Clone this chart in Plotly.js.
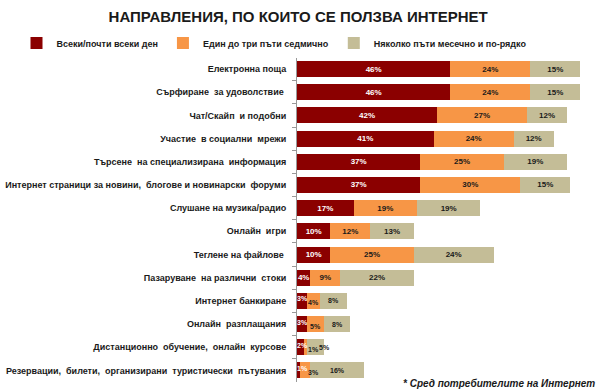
<!DOCTYPE html>
<html><head><meta charset="utf-8">
<script src="https://cdn.plot.ly/plotly-3.0.1.min.js"></script>
<style>body{margin:0;padding:0;background:#fff}#chart{width:600px;height:392px}</style>
</head><body><div id="chart"></div>
<script>
const categories = [
  "Електронна поща",
  "Сърфиране  за удоволствие ",
  "Чат/Скайп  и подобни",
  "Участие  в социални  мрежи",
  "Търсене  на специализирана  информация",
  "Интернет страници за новини,  блогове и новинарски  форуми",
  "Слушане на музика/радио",
  "Онлайн  игри",
  "Теглене на файлове ",
  "Пазаруване  на различни  стоки",
  "Интернет банкиране",
  "Онлайн  разплащания",
  "Дистанционно  обучение,  онлайн  курсове",
  "Резервации,  билети,  организирани  туристически  пътувания"
];
const seriesNames = ["Всеки/почти всеки ден", "Един до три пъти седмично", "Няколко пъти месечно и по-рядко"];
const daily   = [46, 46, 42, 41, 37, 37, 17, 10, 10, 4, 3, 3, 2, 1];
const weekly  = [24, 24, 27, 24, 25, 30, 19, 12, 25, 9, 4, 5, 1, 3];
const monthly = [15, 15, 12, 12, 19, 15, 19, 13, 24, 22, 8, 8, 5, 16];

const colors = ["#8B0000", "#F79646", "#C4BD97"];
const textColors = ["#ffffff", "#1a1a1a", "#1a1a1a"];
const FONT = "Liberation Sans, Arial, sans-serif";
const SMALL = 4;            // rows whose daily value is below this get spread-out labels
const XMAX = 90;            // x range
const PLOT_W = 300;         // plot width in px (domain of x axis)
const PPU = PLOT_W / XMAX;  // px per unit

const series = [daily, weekly, monthly];
const traces = series.map((vals, i) => ({
  type: "bar",
  orientation: "h",
  name: seriesNames[i],
  y: categories,
  x: vals,
  text: vals.map((v, k) => (daily[k] < SMALL) ? "" : v + "%"),
  textposition: "inside",
  insidetextanchor: "middle",
  constraintext: "none",
  textangle: 0,
  textfont: {family: FONT, size: 8, color: textColors[i], weight: "bold"},
  marker: {color: colors[i], line: {width: 0}},
  hoverinfo: "none"
}));

// spread labels of very short bars so they do not sit on each other
const annotations = [];
const SMALL_FS = 7;
const labelW = s => (s.length - 1) * SMALL_FS * 0.556 + SMALL_FS * 0.889;
daily.forEach((d, k) => {
  if (d >= SMALL) return;
  const vals = [daily[k], weekly[k], monthly[k]];
  let start = 0, prevPos = null, prevW = 0;
  vals.forEach((v, j) => {
    const txt = v + "%";
    const w = labelW(txt);
    const center = (start + v / 2) * PPU;
    let pos = Math.max(center, w / 2);
    if (prevPos !== null) pos = Math.max(pos, prevPos + prevW / 2 + 1 + w / 2);
    annotations.push({
      x: pos / PPU, y: categories[k], xref: "x", yref: "y",
      text: txt, showarrow: false,
      yshift: j === 0 ? 2 : (j === 1 ? -2 : 0),
      font: {family: FONT, size: SMALL_FS, weight: "bold", color: textColors[j]}
    });
    start += v; prevPos = pos; prevW = w;
  });
});
annotations.push({
  text: "* Сред потребителите на Интернет",
  xref: "paper", yref: "paper",
  x: 1, xanchor: "right",
  y: -0.005, yanchor: "middle",
  showarrow: false,
  font: {family: FONT, size: 10, weight: "bold", style: "italic", color: "#1a1a1a"}
});

const layout = {
  width: 600, height: 392,
  barmode: "stack",
  bargap: 0.31,
  paper_bgcolor: "#fff", plot_bgcolor: "#fff",
  margin: {l: 3, r: 3, t: 55, b: 10},
  font: {family: FONT, color: "#000"},
  title: {
    text: "НАПРАВЛЕНИЯ, ПО КОИТО СЕ ПОЛЗВА ИНТЕРНЕТ",
    font: {family: FONT, size: 15, weight: "bold", color: "#1a1a1a"},
    x: 0.497, xref: "container", xanchor: "center",
    y: 1 - 17/392, yref: "container", yanchor: "middle"
  },
  showlegend: true,
  legend: {
    orientation: "h",
    xref: "container", yref: "container",
    x: 274/600, xanchor: "center",
    y: 1 - 43/392, yanchor: "middle",
    font: {family: FONT, size: 9, weight: "bold", color: "#1a1a1a"},
    traceorder: "normal",
    itemwidth: 30
  },
  xaxis: {
    domain: [294/594, 1],
    range: [0, XMAX],
    showgrid: false, zeroline: false, showline: false,
    showticklabels: false, ticks: "", fixedrange: true
  },
  yaxis: {
    type: "category",
    autorange: "reversed",
    showgrid: false, zeroline: false,
    showline: true, linecolor: "#999", linewidth: 1,
    ticks: "outside", tickson: "boundaries", ticklen: 4, tickcolor: "#999",
    ticklabelstandoff: 8,
    tickfont: {family: FONT, size: 9, weight: "bold", color: "#1a1a1a"}
  },
  annotations: annotations
};

Plotly.newPlot("chart", traces, layout, {displayModeBar: false, staticPlot: true});
</script>
</body></html>
